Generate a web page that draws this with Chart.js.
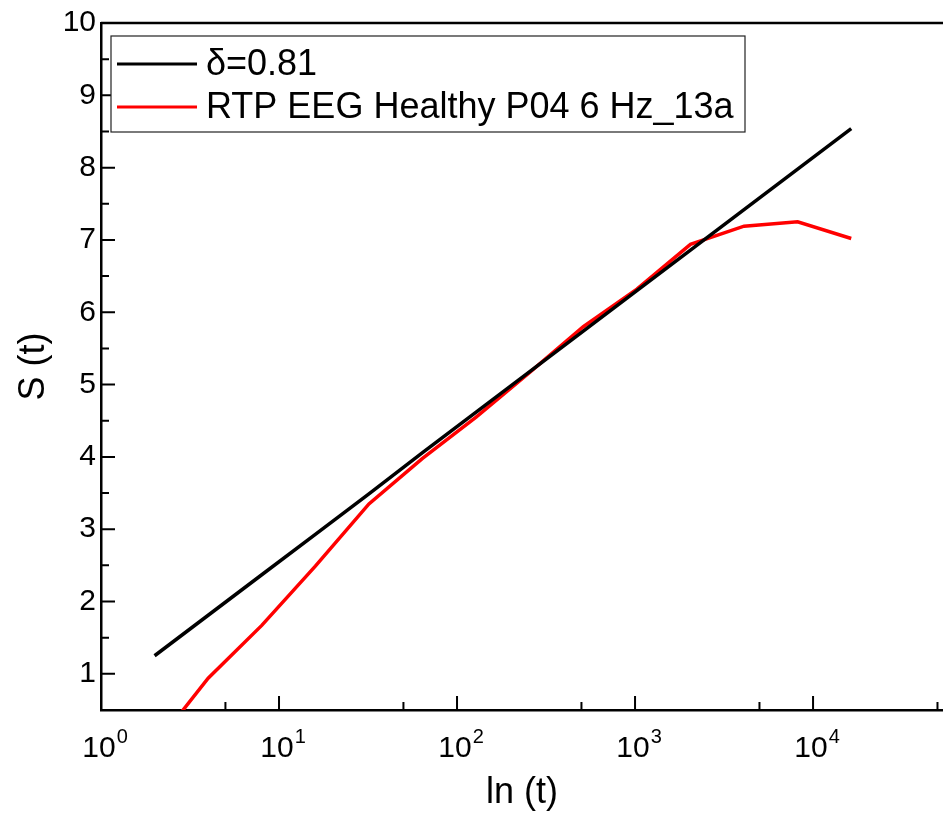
<!DOCTYPE html>
<html>
<head>
<meta charset="utf-8">
<script src="https://cdn.jsdelivr.net/npm/chart.js@4.4.1/dist/chart.umd.min.js"></script>
<style>
  body { margin: 0; background: #fff; }
  #wrap { width: 943px; height: 815px; }
</style>
</head>
<body>
<div id="wrap"><canvas id="entropyChart" width="943" height="815"></canvas></div>
<script>
// time lags (powers of two)
const tValues = [2, 4, 8, 16, 32, 64, 128, 256, 512, 1024, 2048, 4096, 8192, 16384];
// fitted straight line, delta = 0.81
const fitValues = [1.25, 1.81, 2.37, 2.93, 3.49, 4.06, 4.62, 5.18, 5.74, 6.30, 6.86, 7.42, 7.98, 8.54];
// RTP EEG Healthy P04 6 Hz_13a
const eegValues = [0.0, 0.94, 1.67, 2.49, 3.35, 3.98, 4.55, 5.17, 5.80, 6.32, 6.94, 7.19, 7.25, 7.02];

const xMajorTicks = [1, 10, 100, 1000, 10000];
const xMinorTicks = [5, 50, 500, 5000, 50000];
const yMajorTicks = [1, 2, 3, 4, 5, 6, 7, 8, 9, 10];
const yMinorTicks = [1.5, 2.5, 3.5, 4.5, 5.5, 6.5, 7.5, 8.5, 9.5];

const FONT = '"Liberation Sans", Arial, sans-serif';

// inward ticks, x labels with exponents, top frame line and the boxed legend
const framePlugin = {
    id: 'frame',
    afterDraw(chart) {
        const ctx = chart.ctx;
        const area = chart.chartArea;
        const xs = chart.scales.x;
        const ys = chart.scales.y;
        ctx.save();
        ctx.strokeStyle = '#000';
        ctx.lineWidth = 2.5;
        ctx.beginPath();
        ctx.moveTo(area.left, area.top);
        ctx.lineTo(area.right, area.top);
        ctx.stroke();

        ctx.lineWidth = 2;
        ctx.beginPath();
        xMajorTicks.forEach(v => {
            const px = xs.getPixelForValue(v);
            ctx.moveTo(px, area.bottom);
            ctx.lineTo(px, area.bottom - 14);
        });
        xMinorTicks.forEach(v => {
            const px = xs.getPixelForValue(v);
            ctx.moveTo(px, area.bottom);
            ctx.lineTo(px, area.bottom - 8);
        });
        yMajorTicks.forEach(v => {
            const py = ys.getPixelForValue(v);
            ctx.moveTo(area.left, py);
            ctx.lineTo(area.left + 14, py);
        });
        yMinorTicks.forEach(v => {
            const py = ys.getPixelForValue(v);
            ctx.moveTo(area.left, py);
            ctx.lineTo(area.left + 8, py);
        });
        ctx.stroke();

        // x tick labels: 10 with raised exponent
        ctx.fillStyle = '#000';
        ctx.textBaseline = 'alphabetic';
        xMajorTicks.forEach(v => {
            const px = xs.getPixelForValue(v);
            const e = String(Math.round(Math.log10(v)));
            ctx.font = '30px ' + FONT;
            ctx.textAlign = 'center';
            ctx.fillText('10', px - 2, 757);
            const w = ctx.measureText('10').width;
            ctx.font = '20px ' + FONT;
            ctx.textAlign = 'left';
            ctx.fillText(e, px - 2 + w / 2 + 1, 743);
        });

        // legend box
        ctx.fillStyle = '#fff';
        ctx.fillRect(111, 36, 634, 96);
        ctx.lineWidth = 1.2;
        ctx.strokeStyle = '#222';
        ctx.strokeRect(111, 36, 634, 96);
        ctx.font = '36px ' + FONT;
        ctx.textAlign = 'left';
        ctx.textBaseline = 'middle';
        const rows = [64, 107];
        chart.data.datasets.forEach((ds, i) => {
            ctx.strokeStyle = ds.borderColor;
            ctx.lineWidth = 3;
            ctx.beginPath();
            ctx.moveTo(117, rows[i]);
            ctx.lineTo(197, rows[i]);
            ctx.stroke();
            ctx.fillStyle = '#000';
            ctx.fillText(ds.label, 206, rows[i] + 1);
        });
        ctx.restore();
    }
};

const ctx = document.getElementById('entropyChart').getContext('2d');
const myChart = new Chart(ctx, {
    type: 'line',
    data: {
        labels: tValues,
        datasets: [{
            label: '\u03b4=0.81',
            data: tValues.map((t, i) => ({ x: t, y: fitValues[i] })),
            borderColor: '#000000',
            borderWidth: 3.5,
            pointRadius: 0,
            tension: 0,
            fill: false
        }, {
            label: 'RTP EEG Healthy P04 6 Hz_13a',
            data: tValues.map((t, i) => ({ x: t, y: eegValues[i] })),
            borderColor: '#ff0000',
            borderWidth: 3.5,
            pointRadius: 0,
            tension: 0,
            fill: false
        }]
    },
    options: {
        responsive: false,
        animation: false,
        layout: { padding: { top: 22, right: 0, left: 0, bottom: 0 } },
        plugins: {
            legend: { display: false },
            tooltip: { enabled: false }
        },
        scales: {
            x: {
                type: 'logarithmic',
                min: 1,
                max: 53700,
                afterFit(scale) { scale.height = 105; },
                afterBuildTicks(scale) {
                    scale.ticks = xMajorTicks.map(v => ({ value: v }));
                },
                grid: { display: false, drawTicks: false },
                border: { display: true, color: '#000', width: 2.5 },
                ticks: { display: false },
                title: {
                    display: true,
                    text: 'ln (t)',
                    color: '#000',
                    font: { family: FONT, size: 36 },
                    padding: { top: 0, bottom: 0 }
                }
            },
            y: {
                min: 0.5,
                max: 10,
                afterFit(scale) { scale.width = 101; },
                afterBuildTicks(scale) {
                    scale.ticks = yMajorTicks.map(v => ({ value: v }));
                },
                grid: { display: false, drawTicks: false },
                border: { display: true, color: '#000', width: 2.5 },
                ticks: {
                    color: '#000',
                    font: { family: FONT, size: 30 },
                    padding: 5,
                    autoSkip: false
                },
                title: {
                    display: true,
                    text: 'S (t)',
                    color: '#000',
                    font: { family: FONT, size: 36 },
                    padding: { top: 12, bottom: 0 }
                }
            }
        }
    },
    plugins: [framePlugin]
});
</script>
</body>
</html>
